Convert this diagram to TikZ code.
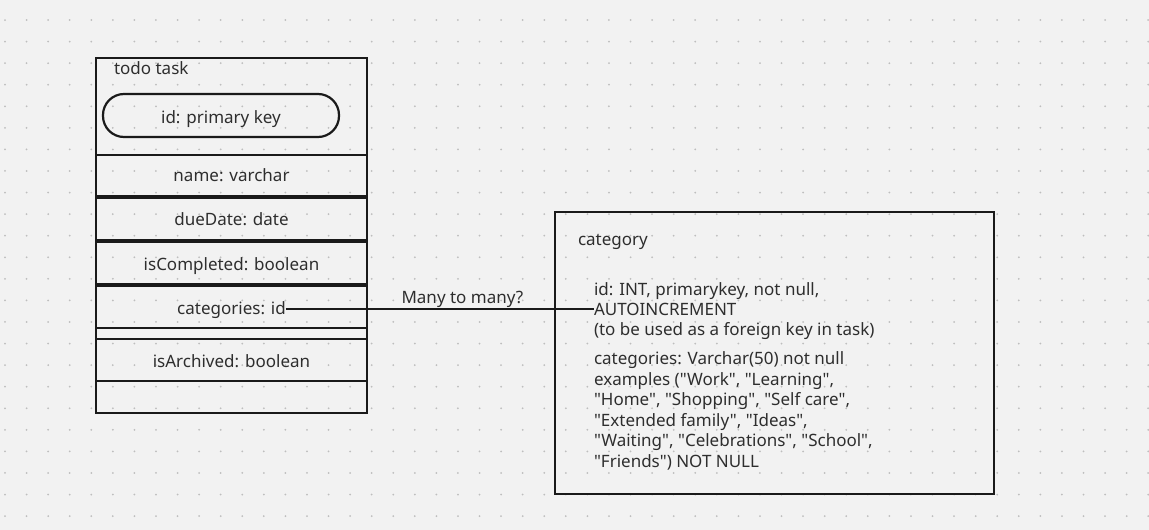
\documentclass[tikz,border=0pt]{standalone}
\usepackage{fontspec}
\setmainfont{Noto Sans}[Ligatures=TeXOff]
\definecolor{bg}{HTML}{F2F2F2}
\definecolor{ink}{HTML}{1A1A1A}
\definecolor{txt}{HTML}{2E2E2E}
\definecolor{dotc}{HTML}{BEBEBE}
\begin{document}
\begin{tikzpicture}[x=1pt,y=-1pt,
  row/.style={draw=ink, line width=2.2pt, minimum width=271pt, inner sep=0pt, outer sep=0pt, anchor=north west},
  septhick/.style={draw=ink, line width=3.8pt},
  pill/.style={draw=ink, line width=2.2pt, rounded corners=21pt, minimum width=236pt, minimum height=43pt, inner sep=0pt, outer sep=0pt},
  catbox/.style={draw=ink, line width=2.4pt, minimum width=439pt, minimum height=282pt, inner sep=0pt, outer sep=0pt, anchor=north west},
  lbl/.style={text=txt, inner sep=0pt, outer sep=0pt, font=\fontsize{17}{20.5}\selectfont},
  conn/.style={draw=ink, line width=2pt}]
\fill[bg] (0,0) rectangle (1149,530);
\useasboundingbox (0,0) rectangle (1149,530);
\foreach \i in {0,...,53} \foreach \j in {0,...,24}
  \fill[dotc] ({5+\i*21.57},{20+\j*21.57}) circle (1pt);
% todo task table
\node[row, minimum height=97pt] (hdr) at (96,58) {};
\node[row, minimum height=42pt] (r1) at (96,155) {};
\node[row, minimum height=44pt] (r2) at (96,197) {};
\node[row, minimum height=44pt] (r3) at (96,241) {};
\node[row, minimum height=43pt] (r4) at (96,285) {};
\node[row, minimum height=11pt] (r5) at (96,328) {};
\node[row, minimum height=42pt] (r6) at (96,339) {};
\node[row, minimum height=32pt] (r7) at (96,381) {};
\draw[septhick] (r1.south west) -- (r1.south east);
\draw[septhick] (r2.south west) -- (r2.south east);
\draw[septhick] (r3.south west) -- (r3.south east);
\node[lbl, anchor=base west] (title) at (114,74) {todo task};
\node[pill] (pk) at (221,115.5) {};
\node[lbl, anchor=base] (pkt) at (221,123.3) {id: primary key};
\node[lbl, anchor=base] (name) at (231.5,181.7) {name: varchar};
\node[lbl, anchor=base] (due) at (231.5,225.7) {dueDate: date};
\node[lbl, anchor=base] (done) at (231.5,270.7) {isCompleted: boolean};
\node[lbl, anchor=base] (cats) at (231.5,314) {categories: id};
\node[lbl, anchor=base] (arch) at (231.5,367.7) {isArchived: boolean};
% category box
\node[catbox] (cat) at (555,212) {};
\node[lbl, anchor=base west] (cattitle) at (578,245) {category};
\node[lbl, anchor=base west] (idl) at (594,295.7) {id: INT, primarykey, not null,};
\node[lbl, anchor=base west] (auto) at (594,315) {AUTOINCREMENT};
\node[lbl, anchor=base west] (fk) at (594,335) {(to be used as a foreign key in task)};
\node[lbl, anchor=base west] (c1) at (594,364.3) {categories: Varchar(50) not null};
\node[lbl, anchor=base west] (c2) at (594,385) {examples ("Work", "Learning",};
\node[lbl, anchor=base west] (c3) at (594,405.7) {"Home", "Shopping", "Self care",};
\node[lbl, anchor=base west] (c4) at (594,426) {"Extended family", "Ideas",};
\node[lbl, anchor=base west] (c5) at (594,446.7) {"Waiting", "Celebrations", "School",};
\node[lbl, anchor=base west] (c6) at (594,467.3) {"Friends") NOT NULL};
% connector
\draw[conn] (cats.east |- auto.west) -- (auto.west)
  node[lbl, pos=0.573, anchor=base, yshift=5pt] (rel) {Many to many?};
\end{tikzpicture}
\end{document}
